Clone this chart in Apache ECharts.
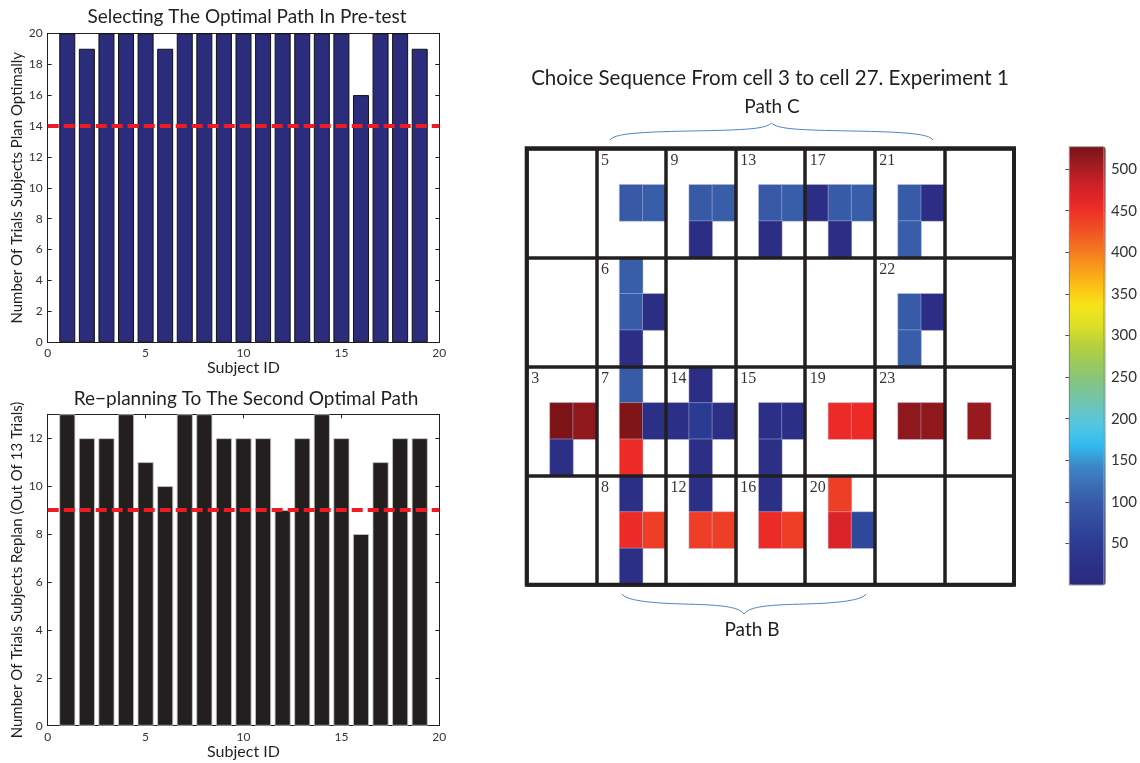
<!DOCTYPE html>
<html>
<head>
<meta charset="utf-8">
<script src="https://cdn.jsdelivr.net/npm/echarts@6.0.0/dist/echarts.min.js"></script>
<style>html,body{margin:0;padding:0;background:#fff}#c{width:1140px;height:763px}</style>
</head>
<body>
<div id="c"></div>
<script>
// ---------- data ----------
const subjects = [1,2,3,4,5,6,7,8,9,10,11,12,13,14,15,16,17,18,19];
const pretestOptimal = [20,19,20,20,20,19,20,20,20,20,20,20,20,20,20,16,20,20,19];
const replanCounts   = [13,12,12,13,11,10,13,13,12,12,12,9,12,13,12,8,11,12,12];
const pretestThreshold = 14;
const replanThreshold = 9;

const heatCols = ['0','1','2','3','4','5','6','7','8','9','10','11','12','13','14','15','16','17','18','19','20'];
const heatRows = ['0','1','2','3','4','5','6','7','8','9','10','11'];
// [subColumn, subRow (top = 0), value]
const heatCells = [
  [4,1,98],[5,1,102],[7,1,98],[8,1,102],[10,1,98],[11,1,102],[12,1,15],[13,1,100],[14,1,102],[16,1,100],[17,1,15],
  [7,2,15],[10,2,15],[13,2,15],[16,2,102],
  [4,3,102],
  [4,4,100],[5,4,15],[16,4,100],[17,4,15],
  [4,5,15],[16,5,102],
  [4,6,100],[7,6,15],
  [1,7,525],[2,7,515],[4,7,523],[5,7,18],[6,7,18],[7,7,50],[8,7,18],[10,7,18],[11,7,18],[13,7,455],[14,7,455],[16,7,515],[17,7,515],[19,7,510],
  [1,8,18],[4,8,455],[7,8,18],[10,8,18],
  [4,9,18],[7,9,18],[10,9,18],[13,9,440],
  [4,10,455],[5,10,440],[7,10,440],[8,10,440],[10,10,455],[11,10,440],[13,10,470],[14,10,72],
  [4,11,18]
];
// [bigColumn, bigRow, cell number]
const cellLabels = [
  [1,0,'5'],[2,0,'9'],[3,0,'13'],[4,0,'17'],[5,0,'21'],
  [1,1,'6'],[5,1,'22'],
  [0,2,'3'],[1,2,'7'],[2,2,'14'],[3,2,'15'],[4,2,'19'],[5,2,'23'],
  [1,3,'8'],[2,3,'12'],[3,3,'16'],[4,3,'20']
];
const colorbarMin = 0, colorbarMax = 527;
const jetColors = ['#2a2a7c','#2b3088','#2c3a91','#30489b','#3757a5','#3a6db4','#3b88c8','#32bbee','#52c6e4','#6cc5b8','#80c48c','#98c862','#b6d03e','#dcdf28','#f6e51a','#fcc015','#f8981c','#f37021','#ef4a24','#ec2a26','#d02127','#a51c21','#781316'];

// ---------- chart ----------
const FONT = 'Lato, "Open Sans", sans-serif';
const INK = '#231f20';
const chart = echarts.init(document.getElementById('c'), null, {renderer:'canvas'});

function barX(gi, pos, labels, name) {
  return {
    type:'value', gridIndex:gi, position:pos, min:0, max:20, interval:5,
    axisLine:{show:true, onZero:false, lineStyle:{color:INK, width:1}},
    axisTick:{show:true, inside:true, length:4, lineStyle:{color:INK}},
    axisLabel:{show:labels, color:'#333', fontSize:12, margin:5, fontFamily:FONT},
    splitLine:{show:false},
    name:name||'', nameLocation:'middle', nameGap:16,
    nameTextStyle:{fontSize:16, color:INK, fontFamily:FONT}
  };
}
function barY(gi, pos, labels, max, name) {
  return {
    type:'value', gridIndex:gi, position:pos, min:0, max:max, interval:2,
    axisLine:{show:true, onZero:false, lineStyle:{color:INK, width:1}},
    axisTick:{show:true, inside:true, length:4, lineStyle:{color:INK}},
    axisLabel:{show:labels, color:'#333', fontSize:12, margin:5, fontFamily:FONT, showMaxLabel: max % 2 === 0,
      formatter: v => (v % 2 === 0 ? String(v) : '')},
    splitLine:{show:false},
    name:name||'', nameLocation:'middle', nameGap:22,
    nameTextStyle:{fontSize:15, color:INK, fontFamily:FONT}
  };
}
const thresholdLine = v => ({
  silent:true, symbol:['none','none'], label:{show:false},
  lineStyle:{color:'#ec1c24', width:4, type:[11,5]},
  data:[{yAxis:v}]
});
// curly brace made of 4 cubic bezier pieces (annotation)
function brace(x0, x1, yEnd, yMid, yTip) {
  const xm = (x0 + x1) / 2;
  const s = yMid > yEnd ? 1 : -1;
  const pieces = [
    [x0, yEnd, x0 + 4, yEnd + s*6, x0 + 25, yMid - s*1, x0 + (xm - x0) * 0.5, yMid],
    [x0 + (xm - x0) * 0.5, yMid, xm - 25, yMid + s*1, xm - 6, yMid + s*2, xm, yTip],
    [xm, yTip, xm + 6, yMid + s*2, xm + 25, yMid + s*1, x1 - (x1 - xm) * 0.5, yMid],
    [x1 - (x1 - xm) * 0.5, yMid, x1 - 25, yMid - s*1, x1 - 4, yEnd + s*6, x1, yEnd]
  ];
  return pieces.map(p => ({type:'bezierCurve', silent:true,
    shape:{x1:p[0], y1:p[1], cpx1:p[2], cpy1:p[3], cpx2:p[4], cpy2:p[5], x2:p[6], y2:p[7]},
    style:{stroke:'#4a86c8', lineWidth:1, fill:null}}));
}

const option = {
  animation:false,
  backgroundColor:'#fff',
  grid:[
    {left:47.7, top:33.3, width:391.6, height:309},
    {left:47.7, top:414.3, width:391.6, height:311.4},
    {left:526.7, top:148.3, width:487.3, height:436.4, show:true, borderColor:INK, borderWidth:4, backgroundColor:'transparent', z:6},
    {left:1069.3, top:146.7, width:36.4, height:438.3, show:true, borderColor:'#999', borderWidth:1, backgroundColor:'transparent', z:10}
  ],
  xAxis:[
    barX(0,'bottom',true,'Subject ID'),
    barX(0,'top',false),
    barX(1,'bottom',true,'Subject ID'),
    barX(1,'top',false),
    {type:'category', gridIndex:2, data:heatCols, z:5,
      axisLine:{show:false}, axisTick:{show:false}, axisLabel:{show:false},
      splitLine:{show:true, interval:(i)=> i % 3 === 0, lineStyle:{color:INK, width:3.5}}},
    {type:'value', gridIndex:3, min:0, max:1, show:false}
  ],
  yAxis:[
    barY(0,'left',true,20,'Number Of Trials Subjects Plan Optimally'),
    barY(0,'right',false,20),
    barY(1,'left',true,13,'Number Of Trials Subjects Replan (Out Of 13 Trials)'),
    barY(1,'right',false,13),
    {type:'category', gridIndex:2, data:heatRows, inverse:true, z:5,
      axisLine:{show:false}, axisTick:{show:false}, axisLabel:{show:false},
      splitLine:{show:true, interval:(i)=> i % 3 === 0, lineStyle:{color:INK, width:3.5}}},
    {type:'value', gridIndex:3, position:'right', min:colorbarMin, max:colorbarMax, interval:50, z:10,
      axisLine:{show:true, lineStyle:{color:'#888', width:1}},
      axisTick:{show:true, inside:true, length:4, lineStyle:{color:'#555'}},
      axisLabel:{show:true, color:'#333', fontSize:15, margin:7, fontFamily:FONT, showMinLabel:false, showMaxLabel:false,
        formatter: v => (v > 0 && v % 50 === 0 ? String(v) : '')},
      splitLine:{show:false}}
  ],
  visualMap:{
    type:'continuous', seriesIndex:2, min:colorbarMin, max:colorbarMax,
    left:1069.3, top:146.7, itemWidth:36.4, itemHeight:438.3, padding:0,
    calculable:false, hoverLink:false, show:true,
    inRange:{color:jetColors}, textStyle:{color:'transparent'}
  },
  series:[
    {type:'bar', xAxisIndex:0, yAxisIndex:0, barWidth:16,
      data:subjects.map((s,i)=>[s, pretestOptimal[i]]),
      itemStyle:{color:'#2b2d7c', borderColor:'#111', borderWidth:1},
      markLine:thresholdLine(pretestThreshold)},
    {type:'bar', xAxisIndex:2, yAxisIndex:2, barWidth:16,
      data:subjects.map((s,i)=>[s, replanCounts[i]]),
      itemStyle:{color:INK, borderColor:'#c8c8c8', borderWidth:0.8},
      markLine:thresholdLine(replanThreshold)},
    {type:'heatmap', xAxisIndex:4, yAxisIndex:4, data:heatCells,
      itemStyle:{borderColor:'rgba(200,200,240,0.55)', borderWidth:0.8},
      emphasis:{disabled:true}},
    {type:'scatter', xAxisIndex:4, yAxisIndex:4, symbolSize:0, silent:true, z:7,
      data:cellLabels.map(([c,r,t]) => [c*3, r*3, t]),
      label:{show:true, position:[-7,-14], align:'left', verticalAlign:'top',
        formatter:p => p.value[2], fontFamily:'"Liberation Serif", "DejaVu Serif", serif', fontSize:16, color:'#000',
        textBorderWidth:0}}
  ],
  graphic:[
    {type:'text', x:247, y:17, style:{text:'Selecting The Optimal Path In Pre-test', fill:INK, font:'19px ' + FONT, textAlign:'center', textVerticalAlign:'middle'}},
    {type:'text', x:246, y:399, style:{text:'Re\u2212planning To The Second Optimal Path', fill:INK, font:'19px ' + FONT, textAlign:'center', textVerticalAlign:'middle'}},
    {type:'text', x:770, y:78, style:{text:'Choice Sequence From cell 3 to cell 27. Experiment 1', fill:INK, font:'20.5px ' + FONT, textAlign:'center', textVerticalAlign:'middle'}},
    {type:'text', x:772, y:107, style:{text:'Path C', fill:INK, font:'19px ' + FONT, textAlign:'center', textVerticalAlign:'middle'}},
    {type:'text', x:752, y:630, style:{text:'Path B', fill:INK, font:'19px ' + FONT, textAlign:'center', textVerticalAlign:'middle'}}
  ].concat(brace(610, 933, 140, 131, 123), brace(622, 866, 594, 604, 614))
};
chart.setOption(option);
</script>
</body>
</html>
